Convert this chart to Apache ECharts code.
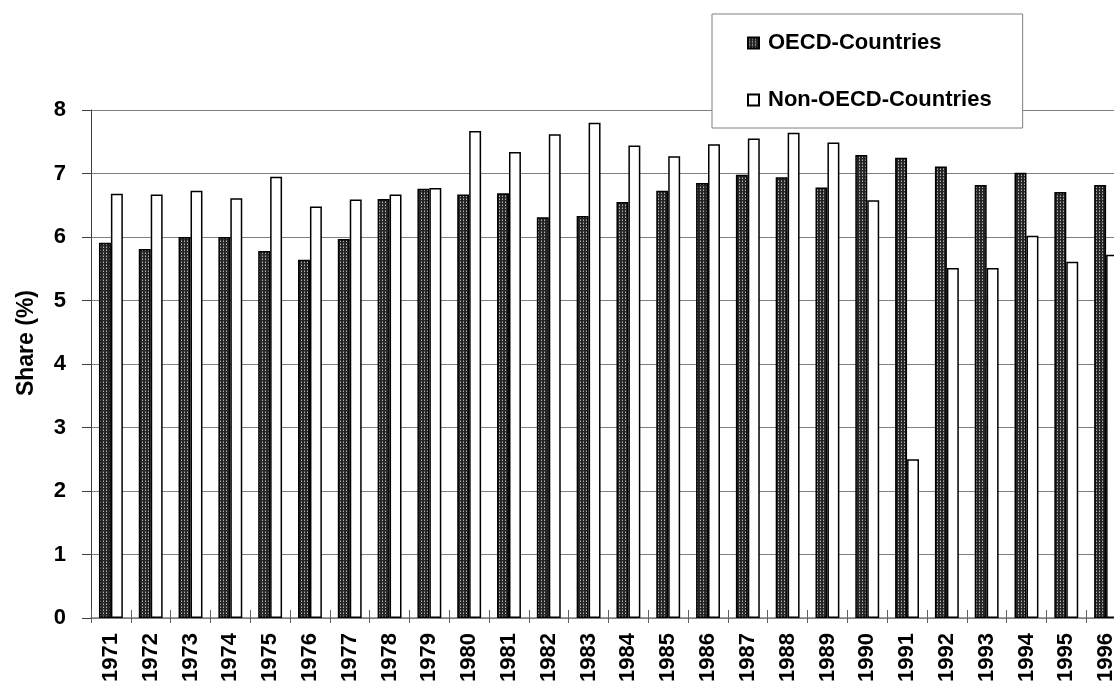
<!DOCTYPE html>
<html>
<head>
<meta charset="utf-8">
<script src="https://cdn.jsdelivr.net/npm/echarts@6/dist/echarts.min.js"></script>
<style>html,body{margin:0;padding:0;background:#fff}#c{width:1114px;height:681px}</style>
</head>
<body>
<div id="c"></div>
<script>
const years = ['1971','1972','1973','1974','1975','1976','1977','1978','1979','1980','1981','1982','1983','1984','1985','1986','1987','1988','1989','1990','1991','1992','1993','1994','1995','1996'];
const oecd = [5.91,5.81,6.00,6.00,5.78,5.64,5.97,6.60,6.76,6.67,6.69,6.31,6.33,6.55,6.73,6.85,6.98,6.94,6.78,7.29,7.25,7.11,6.82,7.01,6.71,6.82];
const nonOecd = [6.68,6.67,6.73,6.61,6.95,6.48,6.59,6.67,6.77,7.67,7.34,7.62,7.80,7.44,7.27,7.46,7.55,7.64,7.49,6.58,2.50,5.51,5.51,6.02,5.61,5.72];
const yTicks = [0,1,2,3,4,5,6,7,8];
const seriesNames = ['OECD-Countries','Non-OECD-Countries'];
const yName = 'Share (%)';

const pc = document.createElement('canvas');
pc.width = 3; pc.height = 3;
const pctx = pc.getContext('2d');
pctx.fillStyle = '#262626'; pctx.fillRect(0,0,3,3);
pctx.fillStyle = '#b4b4b4'; pctx.fillRect(1,1,1,1);
pctx.fillStyle = '#6a6a6a'; pctx.fillRect(1,0,1,1);

const chart = echarts.init(document.getElementById('c'));
const F = 'Arial, "Liberation Sans", sans-serif';
chart.setOption({
  animation: false,
  backgroundColor: '#fff',
  grid: {left: 91, top: 110, width: 1035, height: 508, containLabel: false, outerBoundsMode: 'none'},
  legend: {
    orient: 'vertical', left: 712, top: 14,
    backgroundColor: '#fff', borderColor: '#808080', borderWidth: 1,
    padding: [18, 31, 17, 35], itemGap: 35, itemWidth: 11, itemHeight: 11,
    icon: 'rect',
    textStyle: {fontFamily: F, fontWeight: 'bold', fontSize: 22, color: '#000', padding: [0,0,0,4]},
    data: seriesNames, z: 10
  },
  xAxis: [{
    type: 'category', data: years,
    axisLine: {lineStyle: {color: '#808080', width: 1.5}},
    axisTick: {show: true, inside: false, length: 5, lineStyle: {color: '#606060'}},
    axisLabel: {rotate: 90, margin: 15, fontFamily: F, fontWeight: 'bold', fontSize: 22, color: '#000', interval: 0},
    splitLine: {show: false}
  },{
    type: 'category', data: years, position: 'bottom',
    axisLine: {show: false},
    axisTick: {show: true, inside: true, length: 8, lineStyle: {color: '#606060'}},
    axisLabel: {show: false}
  }],
  yAxis: {
    type: 'value', min: yTicks[0], max: yTicks[yTicks.length-1], interval: 1,
    axisLine: {show: true, lineStyle: {color: '#404040', width: 1}},
    axisTick: {show: true, length: 9, lineStyle: {color: '#404040'}},
    axisLabel: {margin: 25, fontFamily: F, fontWeight: 'bold', fontSize: 22, color: '#000'},
    splitLine: {lineStyle: {color: '#808080', width: 1}}
  },
  graphic: [{
    type: 'text', left: 15, top: 290,
    rotation: Math.PI/2,
    style: {text: yName, font: 'bold 23px ' + F, fill: '#000'},
    originX: 0, originY: 0
  }],
  series: [{
    name: seriesNames[0], type: 'bar', data: oecd,
    barCategoryGap: '40%', barGap: '0%',
    itemStyle: {color: {image: pc, repeat: 'repeat'}, borderColor: '#000', borderWidth: 1.5}
  },{
    name: seriesNames[1], type: 'bar', data: nonOecd,
    barCategoryGap: '40%', barGap: '0%',
    itemStyle: {color: '#fff', borderColor: '#000', borderWidth: 1.5}
  }]
});
</script>
</body>
</html>
